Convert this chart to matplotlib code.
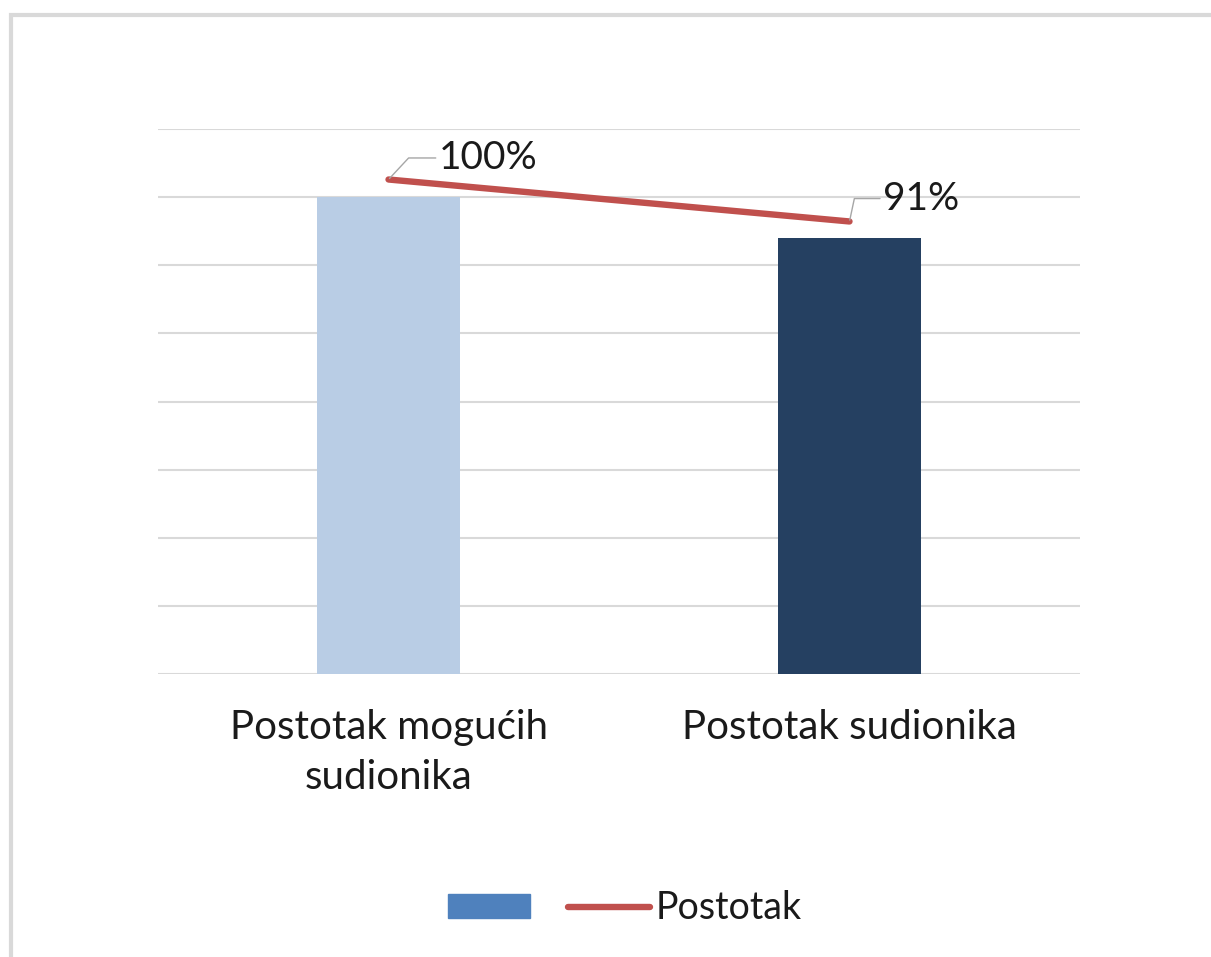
import matplotlib
matplotlib.use("Agg")
import matplotlib.pyplot as plt
from matplotlib.patches import Patch, Rectangle
from matplotlib.lines import Line2D

plt.rcParams['font.family'] = ['Lato', 'DejaVu Sans']

# ---- data ----
categories = ["Postotak mogućih\nsudionika", "Postotak sudionika"]
bar_values = [70, 64]            # counts (primary axis, hidden)
line_values = [1.00, 0.91]       # Postotak (secondary axis)
line_labels = ["100%", "91%"]
series_name = "Postotak"

bar_colors = ["#B9CDE5", "#254061"]
line_color = "#C0504D"
grid_color = "#D9D9D9"
text_color = "#1A1A1A"

fig = plt.figure(figsize=(12.11, 9.57), dpi=100)
ax = fig.add_axes([0.1305, 0.2957, 0.7613, 0.5695])

x = list(range(len(categories)))
ax.bar(x, bar_values, width=0.31, color=bar_colors, zorder=2)
ax.set_xlim(-0.5, 1.5)
ax.set_ylim(0, 80)
ax.set_yticks(range(0, 81, 10))
ax.yaxis.grid(True, color=grid_color, linewidth=1.5, zorder=0)
ax.set_axisbelow(True)
ax.set_xticks(x)
ax.set_xticklabels(categories, linespacing=1.45)
for s in ax.spines.values():
    s.set_visible(False)

ax2 = ax.twinx()
ax2.plot(x, line_values, color=line_color, linewidth=4.6, solid_capstyle='round', zorder=3)
ax2.set_ylim(-0.0605, 1.1083)
ax2.set_yticks([])
for s in ax2.spines.values():
    s.set_visible(False)

ax.tick_params(axis='y', left=False, right=False, labelleft=False, length=0)
ax.tick_params(axis='x', length=0, pad=25, labelsize=29, labelcolor=text_color)
ax2.tick_params(axis='both', length=0)

label_offsets = [(36, 15.5), (24, 16.5)]
leader_angles = [47, 78]
for xi, yi, lab, off, ang in zip(x, line_values, line_labels, label_offsets, leader_angles):
    ax2.annotate(lab, xy=(xi, yi), xytext=off, textcoords='offset points',
                 ha='left', va='center', fontsize=28, color=text_color,
                 arrowprops=dict(arrowstyle='-', color='#A6A6A6', linewidth=1.0,
                                 connectionstyle=f"angle,angleA=0,angleB={ang},rad=0",
                                 shrinkA=0, shrinkB=1))

handles = [Patch(facecolor="#4F81BD", edgecolor="#4F81BD", label=" "),
           Line2D([0], [0], color=line_color, linewidth=4.6, solid_capstyle='round', label=series_name)]
fig.legend(handles=handles, loc='center', bbox_to_anchor=(0.516, 0.051), ncol=2,
           frameon=False, fontsize=27, handlelength=2.2, handleheight=0.6,
           handletextpad=0.15, columnspacing=0.6, labelcolor=text_color)

fig.patches.append(Rectangle((0.0091, -0.2), 1.5, 0.9848 + 0.2, transform=fig.transFigure,
                             fill=False, edgecolor="#D9D9D9", linewidth=3.0, clip_on=False))

fig.savefig("out.png", dpi=100, facecolor="white")
